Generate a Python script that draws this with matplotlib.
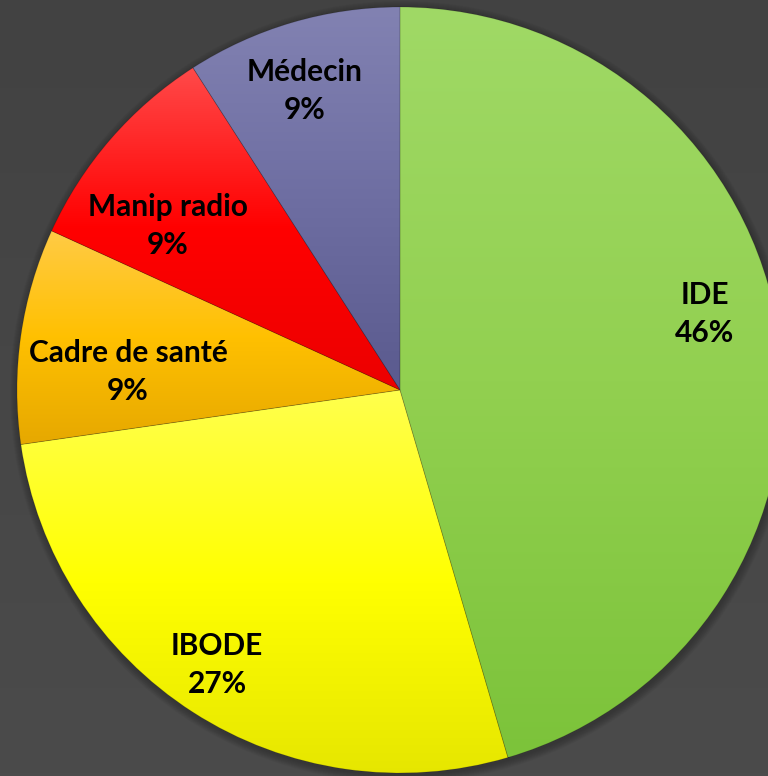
import numpy as np
import matplotlib
matplotlib.use("Agg")
import matplotlib.pyplot as plt
from matplotlib.colors import LinearSegmentedColormap
from matplotlib.patches import Circle

# ---- data ----
categories = ["IDE", "IBODE", "Cadre de santé", "Manip radio", "Médecin"]
values = [45.5, 27.3, 9.1, 9.1, 9.1]

# ---- style ----
grad_colors = [
    ["#a0d966", "#92d050", "#7cc33a"],
    ["#ffff4d", "#ffff00", "#e6e600"],
    ["#ffcb45", "#ffc000", "#e6a800"],
    ["#ff4a4a", "#ff0000", "#ec0000"],
    ["#8282b2", "#6e6ea2", "#5a5a8e"],
]
label_pos = [(705, 314), (217, 665), (128, 372), (168, 226), (305, 91)]

W, H = 768, 776
fig = plt.figure(figsize=(W / 100, H / 100), dpi=100)
ax = fig.add_axes([0, 0, 1, 1])

bg = LinearSegmentedColormap.from_list("bg", ["#4b4b4b", "#424242"])
ax.imshow(np.linspace(0, 1, 256).reshape(-1, 1), cmap=bg, extent=[0, W, 0, H],
          aspect="auto", origin="lower", zorder=0)

cx, cy, R = 400, H - 390, 383

for i in range(8):
    ax.add_patch(Circle((cx + 1, cy - 2), R + 8 - i, color="black", alpha=0.03, lw=0, zorder=1))

wedges, _ = ax.pie(values, startangle=90, counterclock=False, center=(cx, cy), radius=R,
                   wedgeprops=dict(linewidth=0.6, edgecolor=(0, 0, 0, 0.15)), frame=True)
ax.set_xlim(0, W)
ax.set_ylim(0, H)
ax.set_aspect("auto")
ax.axis("off")

for w, cols in zip(wedges, grad_colors):
    w.set_facecolor("none")
    w.set_zorder(3)
    verts = w.get_patch_transform().transform(w.get_path().vertices)
    ymin, ymax = verts[:, 1].min(), verts[:, 1].max()
    xmin, xmax = verts[:, 0].min(), verts[:, 0].max()
    cmap = LinearSegmentedColormap.from_list("g", cols[::-1])
    im = ax.imshow(np.linspace(0, 1, 256).reshape(-1, 1), cmap=cmap,
                   extent=[xmin, xmax, ymin, ymax], aspect="auto", origin="lower", zorder=2)
    im.set_clip_path(w)

for name, v, (lx, ly) in zip(categories, values, label_pos):
    ax.text(lx, H - ly, f"{name}\n{v:.0f}%", ha="center", va="center", fontsize=21.5,
            fontweight="bold", family=["Lato", "DejaVu Sans"], color="black",
            linespacing=1.45, zorder=5)

fig.savefig("out.png", dpi=100)
